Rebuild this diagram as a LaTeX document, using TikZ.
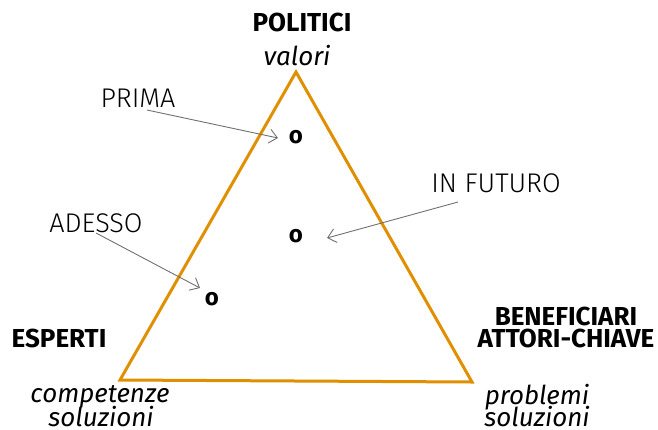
\documentclass[tikz,border=0pt]{standalone}
\usepackage{fontspec}
\setmainfont{Fira Sans}
\newfontfamily\lightfont{Fira Sans Light}
\usetikzlibrary{arrows.meta}
\definecolor{tri}{HTML}{E08F00}
\definecolor{arr}{HTML}{707070}
\tikzset{
  head/.style={font=\fontsize{26}{26}\selectfont\bfseries, inner sep=0pt},
  sub/.style={font=\fontsize{26}{26}\selectfont\itshape, inner sep=0pt},
  lab/.style={font=\fontsize{27}{27}\selectfont\lightfont, inner sep=0pt},
  pt/.style={font=\fontsize{24}{24}\selectfont\bfseries, inner sep=0pt},
  pointer/.style={draw=arr, line width=0.9pt, -{Straight Barb[length=8pt,width=14pt]}},
}
\begin{document}
\begin{tikzpicture}[x=1pt,y=-1pt]
\useasboundingbox (0,0) rectangle (658,429);
\coordinate (A) at (296,72);
\coordinate (B) at (120,380);
\coordinate (C) at (472,382);
\draw[tri, line width=3pt, line join=miter] (A) -- (B) -- (C) -- cycle;
\node[head] (pol) at (302,22) {POLITICI};
\node[sub] (val) at (297,56) {valori};
\node[head] (esp) at (59,338) {ESPERTI};
\node[sub] (comp) at (100,397) {competenze};
\node[sub] (comp2) at (101,417) {soluzioni};
\node[head] (ben) at (566,316) {BENEFICIARI};
\node[head] (ben2) at (566,338) {ATTORI-CHIAVE};
\node[sub] (prob) at (537,397) {problemi};
\node[sub] (prob2) at (537,417) {soluzioni};
\node[lab] (prima) at (138,98) {PRIMA};
\node[lab] (fut) at (496,183) {IN FUTURO};
\node[lab] (ade) at (96,223) {ADESSO};
\node[pt] (o1) at (296,137) {o};
\node[pt] (o2) at (296,236) {o};
\node[pt] (o3) at (212,299) {o};
\coordinate (p1) at (147,110);
\coordinate (p1e) at (278,138);
\coordinate (p2) at (458,202);
\coordinate (p2e) at (327,238);
\coordinate (p3) at (96,233);
\coordinate (p3e) at (200,288);
\draw[pointer] (p1) -- (p1e);
\draw[pointer] (p2) -- (p2e);
\draw[pointer] (p3) -- (p3e);
\end{tikzpicture}
\end{document}
